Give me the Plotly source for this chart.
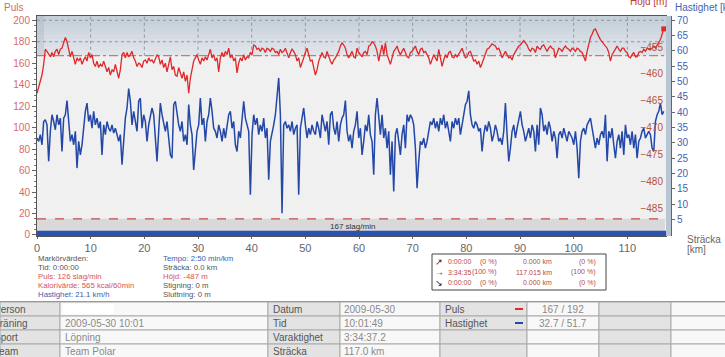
import plotly.graph_objects as go

# ---------------- data ----------------
sample_km = 0.3106  # distance between recorded samples

puls_bpm = [
    132,138,143,149,159,173,171,168,166,170,
    166,171,173,168,173,174,179,184,180,174,
    166,171,165,159,165,162,165,159,163,166,
    162,170,165,168,160,157,162,156,159,157,
    162,157,152,156,149,154,152,159,151,146,
    154,168,170,165,170,166,168,171,165,162,
    157,160,159,156,162,163,160,165,162,163,
    160,165,168,166,
    159,163,156,160,152,159,166,154,157,149,
    148,156,151,146,152,143,149,132,146,156,
    162,165,168,163,159,165,162,166,163,168,
    173,165,168,162,165,152,165,170,166,171,
    168,174,165,168,162,165,151,160,165,162,
    168,163,166,165,170,168,177,176,173,174,
    171,174,173,170,174,173,171,174,173,170,
    171,168,173,170,171,
    174,170,165,170,173,171,168,162,165,156,
    160,165,170,174,168,162,163,156,149,154,
    162,166,170,166,165,171,166,162,159,163,
    165,168,171,176,179,177,174,168,165,168,
    171,166,165,174,170,168,166,170,171,168,
    176,177,180,179,176,171,162,170,177,168,
    179,168,163,159,165,171,173,176,171,168,
    171,174,170,166,165,170,
    171,174,176,171,168,173,174,170,171,168,
    165,159,163,168,165,162,173,165,157,163,
    168,165,170,171,166,165,168,166,168,171,
    174,170,165,166,170,171,166,162,163,159,
    162,156,160,165,170,173,174,176,178,177,
    176,173,174,170,165,168,171,168,165,166,
    163,168,171,174,176,177,179,181,179,177,
    173,171,174,173,170,
    176,174,173,176,177,174,171,174,176,174,
    173,165,170,174,173,171,174,176,174,173,
    171,174,173,171,174,173,171,170,166,162,
    171,179,184,187,191,192,188,185,182,180,
    179,176,174,170,162,168,171,174,176,173,
    171,174,174,171,170,166,165,168,170,166,
    166,170,171,170,173,171,174,173,173,174,
    176,174,177,179,182,187,192,
]

hastighet_kmh = [
    31.6,30.5,32.7,29.4,37.0,37.6,35.9,24.0,33.8,39.2,
    37.0,34.3,39.2,35.9,38.1,27.2,38.1,39.2,43.8,35.9,
    30.5,32.7,29.4,33.8,21.8,30.5,26.1,29.4,34.8,40.3,
    43.0,37.0,39.2,34.8,40.3,35.9,38.1,34.8,37.0,26.1,
    35.9,32.7,37.0,34.8,33.8,35.9,33.2,34.8,32.7,30.5,
    32.7,22.9,30.5,38.1,41.4,47.7,43.6,35.9,40.3,37.0,
    33.8,43.6,44.6,34.8,39.2,37.0,30.5,35.9,39.2,41.4,
    39.2,31.6,24.0,33.8,
    43.0,39.2,35.9,33.8,37.0,31.6,26.1,25.0,42.5,43.6,
    39.2,35.9,33.8,37.0,30.5,32.7,29.4,42.5,35.9,32.7,
    21.2,28.3,33.8,35.9,44.6,35.9,38.1,30.5,37.0,39.2,
    44.6,40.3,34.8,33.8,31.6,35.9,33.8,30.5,34.8,31.6,
    35.9,39.2,40.3,34.8,37.0,29.4,27.2,33.8,31.6,39.2,
    43.6,38.1,35.9,33.8,13.1,32.7,39.2,35.9,38.1,32.7,
    35.9,33.8,38.1,31.6,34.8,18.0,30.5,32.7,35.9,39.2,
    45.7,51.2,39.2,7.1,35.9,
    37.0,34.8,35.9,33.8,37.0,32.7,34.8,35.9,13.1,34.8,
    38.1,41.4,35.9,31.6,34.8,32.7,35.9,33.8,32.7,37.0,
    34.8,31.6,39.2,35.9,33.8,37.0,29.4,39.2,40.3,34.8,
    32.7,37.0,30.5,35.9,38.1,39.2,43.8,33.8,30.5,32.7,
    28.3,33.8,35.9,40.3,31.6,34.8,26.1,30.5,35.9,33.8,
    39.2,32.7,30.5,19.6,39.2,44.6,38.1,32.7,39.2,31.6,
    34.8,28.3,33.8,19.6,30.5,14.2,32.7,34.8,30.5,26.1,
    32.7,35.9,28.3,39.2,37.0,39.2,
    38.1,35.9,28.3,15.2,24.0,30.5,29.4,31.6,28.3,30.5,
    33.8,37.0,35.9,38.1,34.8,37.0,33.8,38.1,35.9,39.2,
    34.8,37.0,33.8,30.5,37.0,34.8,38.1,35.9,38.1,32.7,
    35.9,39.2,42.5,43.6,47.0,39.2,35.9,34.8,37.0,35.9,
    33.8,34.8,27.2,32.7,35.9,33.8,37.0,34.8,30.5,32.7,
    35.9,33.8,30.5,31.6,29.4,33.8,43.0,32.7,24.0,28.3,
    33.8,35.9,31.6,34.8,38.1,40.3,35.9,33.8,30.5,32.7,
    34.8,31.6,35.9,33.8,27.2,
    35.9,29.4,41.4,39.2,33.8,35.9,32.7,37.0,34.8,30.5,
    33.8,31.6,25.0,32.7,33.8,31.6,34.8,32.7,30.5,33.8,
    32.7,31.6,29.4,33.8,28.3,18.5,30.5,33.8,34.8,32.7,
    35.9,37.0,38.1,34.8,31.6,28.3,31.6,29.4,32.7,33.8,
    31.6,39.2,24.0,33.8,31.6,34.8,29.4,25.0,30.5,32.7,
    28.3,33.8,26.1,35.9,31.6,32.7,29.4,33.8,28.3,32.7,
    25.0,30.5,31.6,33.8,34.8,31.6,32.7,33.8,32.7,28.3,
    27.2,37.0,39.2,40.3,43.0,39.2,40.3,
]

hojd_km = [0.0, 117.0]
hojd_m = [-487.0, -487.0]
puls_avg = 167

x_ticks = list(range(0, 111, 10))
puls_ticks = list(range(0, 201, 20))
hojd_ticks = list(range(-485, -449, 5))
hast_ticks = list(range(5, 71, 5))

distance_km = [round(i * sample_km, 3) for i in range(len(puls_bpm))]

# ---------------- geometry ----------------
W, H = 725, 357
ML, MR, MT, MB = 37, 45, 16, 121
PW = W - ML - MR
PH = H - MT - MB
FONT = "Liberation Sans"

def px(x):
    return (x - ML) / PW

def py(y):
    return (H - MB - y) / PH

X_RANGE = [0, 117.2]
PULS_RANGE = [-1, 204]
HOJD_RANGE = [-490.2, -449.2]
HAST_RANGE = [-0.35, 71.4]
XDOM_END = px(666)

RED = "#e0282a"
BLUE = "#2448a8"

fig = go.Figure()

# altitude (filled gray band)
fig.add_trace(go.Scatter(x=hojd_km, y=[HOJD_RANGE[0]] * len(hojd_km), yaxis="y2",
                         mode="lines", line=dict(width=0), hoverinfo="skip"))
fig.add_trace(go.Scatter(x=hojd_km, y=hojd_m, yaxis="y2", mode="lines",
                         fill="tonexty", fillcolor="#d9d9d9",
                         line=dict(color="#c84a4a", width=1.2, dash="dash")))
# heart rate
fig.add_trace(go.Scatter(x=distance_km, y=puls_bpm, mode="lines",
                         line=dict(color=RED, width=1.3)))
fig.add_trace(go.Scatter(x=[distance_km[-1]], y=[puls_bpm[-1]], mode="markers",
                         marker=dict(symbol="square", size=5, color=RED)))
# speed
fig.add_trace(go.Scatter(x=distance_km, y=hastighet_kmh, yaxis="y3", mode="lines",
                         line=dict(color=BLUE, width=1.5)))

shapes = []
# top zone gradient bands
nb = 10
c_lo = (224, 229, 234)
c_hi = (197, 207, 216)
for k in range(nb):
    t = k / (nb - 1)
    c = tuple(int(c_lo[i] + (c_hi[i] - c_lo[i]) * t) for i in range(3))
    y0 = puls_avg + (PULS_RANGE[1] - puls_avg) * k / nb
    y1 = puls_avg + (PULS_RANGE[1] - puls_avg) * (k + 1) / nb
    shapes.append(dict(type="rect", xref="paper", yref="y", x0=0, x1=XDOM_END,
                       y0=y0, y1=y1, fillcolor="rgb(%d,%d,%d)" % c,
                       line=dict(width=0), layer="below"))
# left edge darker shade in top zone
shapes.append(dict(type="rect", xref="paper", yref="y", x0=0, x1=px(44),
                   y0=puls_avg, y1=PULS_RANGE[1], fillcolor="rgba(150,165,180,0.25)",
                   line=dict(width=0), layer="below"))
# dotted grid in top zone
for g in [180, 200]:
    shapes.append(dict(type="line", xref="paper", yref="y", x0=0, x1=XDOM_END,
                       y0=g, y1=g, line=dict(color="#8c98a2", width=1, dash="dot"),
                       layer="below"))
for k in x_ticks[1:]:
    shapes.append(dict(type="line", xref="x", yref="y", x0=k, x1=k,
                       y0=puls_avg, y1=PULS_RANGE[1],
                       line=dict(color="#8c98a2", width=1, dash="dot"), layer="below"))
# average heart rate line
shapes.append(dict(type="line", xref="paper", yref="y", x0=0, x1=XDOM_END,
                   y0=puls_avg, y1=puls_avg,
                   line=dict(color="#c45a5a", width=1, dash="dashdot"), layer="below"))
# bottom blue bar
shapes.append(dict(type="rect", xref="paper", yref="y", x0=0, x1=XDOM_END,
                   y0=PULS_RANGE[0], y1=3.8, fillcolor="#2a52b0",
                   line=dict(width=0), layer="above"))
# right strip between plot and speed axis
shapes.append(dict(type="rect", xref="paper", yref="paper", x0=XDOM_END, x1=px(671),
                   y0=0, y1=1, fillcolor="#b7c6d2", line=dict(width=0)))

# info box
shapes.append(dict(type="rect", xref="paper", yref="paper", x0=px(432), x1=px(606),
                   y0=py(290), y1=py(254), fillcolor="white",
                   line=dict(color="#444", width=1)))

# table
cols = [(0, 60, "L"), (60, 268, "V"), (268, 340, "L"), (340, 440, "V"),
        (440, 527, "L"), (527, 599, "V"), (599, 671, "L"), (671, 726, "V")]
row_tops = [302, 316, 330, 344]
for rt in row_tops:
    for (c0, c1, kind) in cols:
        shapes.append(dict(type="rect", xref="paper", yref="paper",
                           x0=px(c0), x1=px(c1), y0=py(rt + 14), y1=py(rt),
                           fillcolor="#e3e3e3" if kind == "L" else "#f8f8f8",
                           line=dict(color="#aaaaaa", width=1)))
shapes.append(dict(type="line", xref="paper", yref="paper", x0=px(0), x1=px(725),
                   y0=py(301.5), y1=py(301.5), line=dict(color="#999", width=1)))
# redacted name blob
shapes.append(dict(type="rect", xref="paper", yref="paper", x0=px(63), x1=px(114),
                   y0=py(314), y1=py(304), fillcolor="white", line=dict(width=0)))
# legend markers in table
shapes.append(dict(type="line", xref="paper", yref="paper", x0=px(515), x1=px(523),
                   y0=py(309), y1=py(309), line=dict(color=RED, width=2)))
shapes.append(dict(type="line", xref="paper", yref="paper", x0=px(515), x1=px(523),
                   y0=py(323), y1=py(323), line=dict(color=BLUE, width=2)))

ann = []

def txt(x, y, s, color, size=8, anchor="left"):
    ann.append(dict(x=px(x), y=py(y), xref="paper", yref="paper", text=s,
                    showarrow=False, xanchor=anchor, yanchor="middle",
                    borderpad=0,
                    font=dict(size=size, color=color, family=FONT)))

# axis titles
txt(3, 8, "Puls", "#d46a6a", 10)
txt(668, 1, "Höjd [m]", "#c0392b", 10, "right")
txt(674, 8, "Hastighet [km/h]", "#3e64b4", 10)
txt(686, 240, "Sträcka", "#666", 10)
txt(686, 249.5, "[km]", "#666", 10)
txt(352, 226.5, "167 slag/min", "#333", 8, "center")

# marker values
GR = "#555"
RD = "#d9534f"
BL = "#3a5fb0"
col1 = [("Markörvärden:", GR), ("Tid: 0:00:00", GR), ("Puls: 126 slag/min", RD),
        ("Kalorivärde: 565 kcal/60min", RD), ("Hastighet: 21.1 km/h", BL)]
col2 = [("Tempo: 2:50 min/km", BL), ("Sträcka: 0.0 km", GR), ("Höjd: -487 m", RD),
        ("Stigning: 0 m", GR), ("Sluttning: 0 m", GR)]
for i, (s, c) in enumerate(col1):
    txt(37, 258.5 + 9 * i, s, c, 7.8)
for i, (s, c) in enumerate(col2):
    txt(162, 258.5 + 9 * i, s, c, 7.8)

# summary box rows
BR = "#b54a4a"
arrows = ["↗", "→", "↘"]
times = ["0:00:00", "3:34:35", "0:00:00"]
pct = ["(0 %)", "(100 %)", "(0 %)"]
dists = ["0.000 km", "117.015 km", "0.000 km"]
for i in range(3):
    yy = 261.5 + 10.5 * i
    txt(439, yy, arrows[i], "#222", 8.5, "center")
    txt(447, yy, times[i], BR, 7)
    txt(498, yy, pct[i], BR, 7, "right")
    txt(553, yy, dists[i], BR, 7, "right")
    txt(597, yy, pct[i], BR, 7, "right")

# table text
LAB = "#555"
VAL = "#8a8a8a"
rows_y = [309, 323, 337, 351]
for y, s in zip(rows_y, ["Person", "Träning", "Sport", "Team"]):
    txt(-7, y, s, LAB, 10)
for y, s in zip(rows_y, ["", "2009-05-30 10:01", "Löpning", "Team Polar"]):
    if s:
        txt(64, y, s, VAL, 10)
for y, s in zip(rows_y, ["Datum", "Tid", "Varaktighet", "Sträcka"]):
    txt(272, y, s, LAB, 10)
for y, s in zip(rows_y, ["2009-05-30", "10:01:49", "3:34:37.2", "117.0 km"]):
    txt(343, y, s, VAL, 10)
for y, s in zip(rows_y[:2], ["Puls", "Hastighet"]):
    txt(444, y, s, LAB, 10)
for y, s in zip(rows_y[:2], ["167 / 192", "32.7 / 51.7"]):
    txt(563, y, s, VAL, 10, "center")

fig.update_layout(
    width=W, height=H,
    margin=dict(l=ML, r=MR, t=MT, b=MB, pad=0),
    paper_bgcolor="white",
    plot_bgcolor="#f0f0f0",
    showlegend=False,
    font=dict(family=FONT),
    xaxis=dict(domain=[0, XDOM_END], range=X_RANGE, tickvals=x_ticks,
               ticks="outside", ticklen=2, tickcolor="#666", showline=True,
               linecolor="#555", mirror=True, showgrid=False, zeroline=False,
               tickfont=dict(size=11, color="#666", family=FONT)),
    yaxis=dict(range=PULS_RANGE, tickvals=puls_ticks, ticks="outside", ticklen=4,
               tickcolor="#666", showline=True, linecolor="#555", mirror=True,
               showgrid=False, zeroline=False,
               minor=dict(dtick=5, tick0=0, ticks="outside", ticklen=2, tickcolor="#777"),
               tickfont=dict(size=10, color="#d46a6a", family=FONT)),
    yaxis2=dict(overlaying="y", side="right", anchor="x", range=HOJD_RANGE,
                tickvals=hojd_ticks, ticklabelposition="inside", ticks="outside",
                ticklen=3, tickcolor="#777", showgrid=False, zeroline=False,
                showline=False,
                tickfont=dict(size=10, color="#b5523b", family=FONT)),
    yaxis3=dict(overlaying="y", side="right", anchor="free", position=px(671),
                range=HAST_RANGE, tickvals=hast_ticks, ticks="outside", ticklen=3,
                tickcolor="#666", showline=True, linecolor="#666", showgrid=False,
                zeroline=False,
                tickfont=dict(size=10, color="#3e64b4", family=FONT)),
    shapes=shapes,
    annotations=ann,
)

fig.write_html("out.html", config={"displayModeBar": False},
               post_script="document.body.style.margin='0';document.body.style.overflow='hidden';")
